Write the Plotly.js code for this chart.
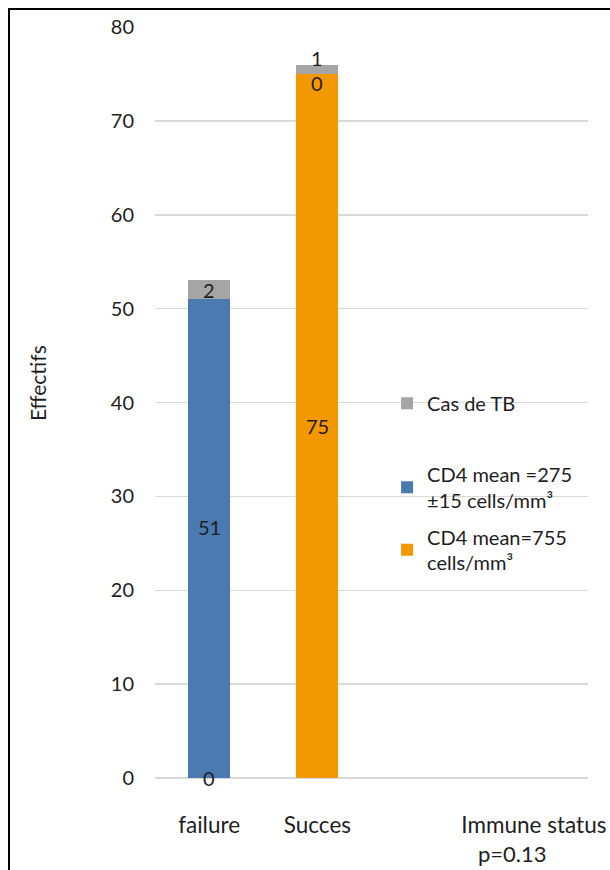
<!DOCTYPE html>
<html>
<head>
<meta charset="utf-8">
<script src="https://cdn.plot.ly/plotly-3.0.1.min.js"></script>
<style>html,body{margin:0;padding:0;background:#fff;}#chart{width:610px;height:870px;}</style>
</head>
<body>
<div id="chart"></div>
<script>
// Data
var categories = ["failure", "Succes", "", "Immune status"];
var seriesNames = ["CD4 mean=755<br>cells/mm\u00b3", "CD4 mean =275<br>\u00b115 cells/mm\u00b3", "Cas de TB"];
var orangeValues = [0, 75];   // failure, Succes
var blueValues = [51, 0];
var grayValues = [2, 1];
var pValueLabel = "p=0.13";
var yTicks = [0, 10, 20, 30, 40, 50, 60, 70, 80];

var FONT = "Lato, 'Open Sans', sans-serif";
var TXT = "#1e1e1e";
var xIdx = [0, 1];

var colors = ["#f39800", "#4a7ab0", "#a5a5a5"];
var series = [orangeValues, blueValues, grayValues];
var legends = ["legend", "legend2", "legend3"];
// label nudges in pixels (style only), per series per category
var labelShift = [[0, 0], [12, -9], [0, 11]];

var traces = [];
series.forEach(function (vals, i) {
  traces.push({
    type: "bar",
    x: xIdx,
    y: vals,
    name: seriesNames[i],
    marker: {color: colors[i], line: {width: 0}},
    legend: legends[i],
    hoverinfo: "skip"
  });
});

// data labels: mid of each stacked segment
var annotations = [];
var base = xIdx.map(function () { return 0; });
series.forEach(function (vals, i) {
  vals.forEach(function (v, j) {
    annotations.push({
      x: xIdx[j], y: base[j] + v / 2, xref: "x", yref: "y",
      text: String(v), showarrow: false,
      xanchor: "center", yanchor: "middle",
      yshift: labelShift[i][j],
      font: {family: FONT, size: 20, color: TXT}
    });
    base[j] += v;
  });
});

annotations.push(
  {text: "Effectifs", xref: "paper", yref: "paper", x: -0.270, y: 0.526,
   xanchor: "center", yanchor: "middle",
   textangle: -90, showarrow: false, font: {family: FONT, size: 21, color: TXT}},
  {text: pValueLabel, xref: "paper", yref: "paper", x: 0.8245, y: -0.0999,
   xanchor: "center", yanchor: "middle",
   showarrow: false, font: {family: FONT, size: 22, color: TXT}}
);

var legendBase = {
  bgcolor: "rgba(0,0,0,0)",
  borderwidth: 0,
  font: {family: FONT, size: 20, color: TXT},
  xanchor: "left",
  yanchor: "middle",
  x: 0.536,
  itemwidth: 30
};

var layout = {
  width: 610,
  height: 870,
  margin: {l: 155, r: 22, t: 27, b: 92},
  paper_bgcolor: "#ffffff",
  plot_bgcolor: "#ffffff",
  barmode: "stack",
  bargap: 0.61,
  font: {family: FONT, size: 20, color: TXT},
  showlegend: true,
  legend: Object.assign({}, legendBase, {y: 0.304}),
  legend2: Object.assign({}, legendBase, {y: 0.387}),
  legend3: Object.assign({}, legendBase, {y: 0.499}),
  xaxis: {
    type: "linear",
    range: [-0.5, categories.length - 0.5],
    tickvals: categories.map(function (c, i) { return i; }),
    ticktext: categories,
    showgrid: false,
    zeroline: false,
    showline: false,
    ticks: "",
    ticklabelstandoff: 31,
    tickfont: {family: FONT, size: 22.5, color: TXT},
    fixedrange: true
  },
  yaxis: {
    range: [0, 80],
    tickvals: yTicks,
    showgrid: true,
    gridcolor: "#d9d9d9",
    gridwidth: 1.5,
    zeroline: true,
    zerolinecolor: "#d9d9d9",
    zerolinewidth: 1.5,
    showline: false,
    ticks: "",
    ticklabelstandoff: 20,
    tickfont: {family: FONT, size: 20, color: TXT},
    fixedrange: true
  },
  annotations: annotations,
  shapes: [
    {type: "rect", xref: "paper", yref: "paper", x0: -0.3372, x1: 1.5, y0: -0.2, y1: 1.024,
     line: {color: "#000", width: 2}, fillcolor: "rgba(0,0,0,0)", layer: "above"}
  ]
};

Plotly.newPlot("chart", traces, layout, {displayModeBar: false, staticPlot: true});
</script>
</body>
</html>
